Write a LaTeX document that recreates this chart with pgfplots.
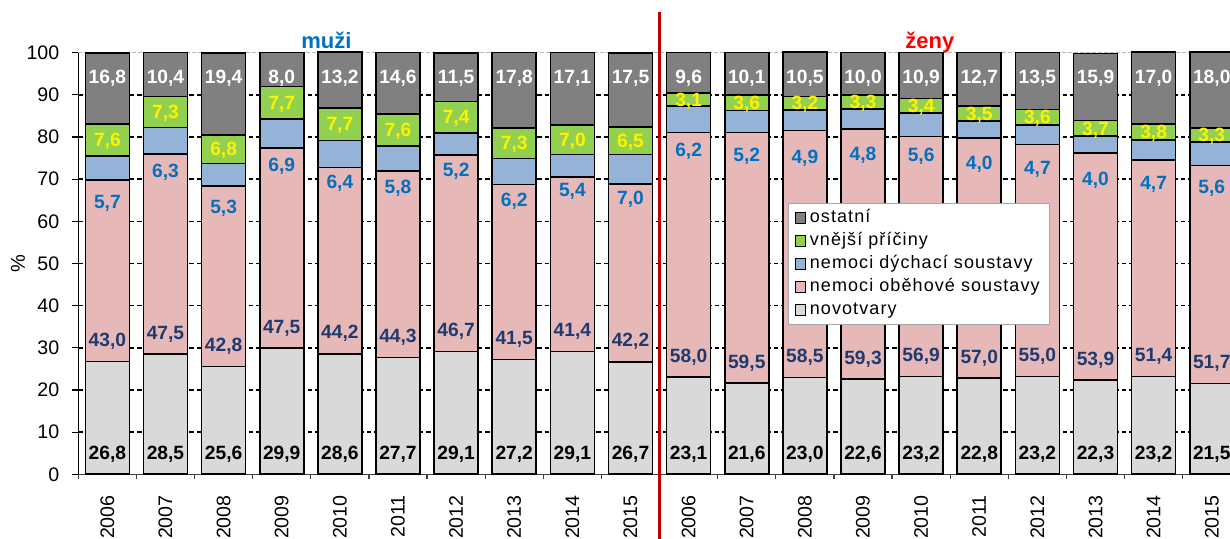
\documentclass[border=0pt]{standalone}
\usepackage{pgfplots}
\pgfplotsset{compat=1.18}
\usepackage{pgfplotstable}
\usepackage{fontspec}
\setmainfont{Liberation Sans}
\newfontfamily\legfont[LetterSpace=6]{Liberation Sans}

\definecolor{cOst}{HTML}{808080}
\definecolor{cVne}{HTML}{92D050}
\definecolor{cDych}{HTML}{95B3D7}
\definecolor{cObe}{HTML}{E6B9B8}
\definecolor{cNov}{HTML}{D9D9D9}
\definecolor{cNavy}{HTML}{1F3A6E}
\definecolor{cBlueTxt}{HTML}{0070C0}
\definecolor{cRedLine}{HTML}{C00000}

\pgfkeys{/pgf/number format/assume math mode=true}

% x: 0-9 muzi 2006-2015, 10-19 zeny 2006-2015; dl = poloha popisku dychaci
\pgfplotstableread{
x  nov  obe  dych vne ost  dl
0  26.8 43.0 5.7  7.6 16.8 64.7
1  28.5 47.5 6.3  7.3 10.4 72.0
2  25.6 42.8 5.3  6.8 19.4 63.5
3  29.9 47.5 6.9  7.7  8.0 73.4
4  28.6 44.2 6.4  7.7 13.2 69.4
5  27.7 44.3 5.8  7.6 14.6 68.2
6  29.1 46.7 5.2  7.4 11.5 72.2
7  27.2 41.5 6.2  7.3 17.8 65.1
8  29.1 41.4 5.4  7.0 17.1 67.4
9  26.7 42.2 7.0  6.5 17.5 65.5
10 23.1 58.0 6.2  3.1  9.6 76.9
11 21.6 59.5 5.2  3.6 10.1 75.8
12 23.0 58.5 4.9  3.2 10.5 75.3
13 22.6 59.3 4.8  3.3 10.0 76.1
14 23.2 56.9 5.6  3.4 10.9 75.7
15 22.8 57.0 4.0  3.5 12.7 73.8
16 23.2 55.0 4.7  3.6 13.5 72.6
17 22.3 53.9 4.0  3.7 15.9 70.2
18 23.2 51.4 4.7  3.8 17.0 69.0
19 21.5 51.7 5.6  3.3 18.0 68.2
}\data

\pgfplotsset{
  base/.style={scale only axis, width=581.25pt, height=210.8pt,
    at={(0,0)}, anchor=south west,
    xmin=-0.5, xmax=19.5, ymin=0, ymax=100},
  mybar/.style={fill=#1, draw=black, line width=0.8pt,
    legend image code/.code={\draw[##1, draw=black, line width=0.5pt] (0pt,-2.6pt) rectangle (5.2pt,2.6pt);}},
  lbl/.style={only marks, mark=none, point meta=explicit,
    nodes near coords={\pgfmathprintnumber[fixed,fixed zerofill,precision=1,use comma]{\pgfplotspointmeta}},
    nodes near coords style={anchor=center, inner sep=0pt, text depth=0pt,
      font=\fontsize{9.6}{11}\selectfont\bfseries, text=#1}},
}

\begin{document}
\begin{tikzpicture}
\begin{axis}[base,
    ybar stacked, bar width=22pt, clip=false,
    axis x line*=bottom, axis y line*=left,
    x axis line style={draw=black!75, line width=0.75pt},
    y axis line style={draw=black, line width=0.75pt},
    tick align=outside,
    ytick={0,10,...,90},
    extra y ticks={100},
    extra y tick style={grid style={draw=gray!55, dash pattern=on 2pt off 1pt, line width=0.6pt}},
    ymajorgrids=true,
    grid style={draw=black, dash pattern=on 2.2pt off 1.5pt, line width=0.7pt},
    major tick length=3pt, minor tick length=2.5pt,
    ytick style={draw=black, line width=0.6pt},
    xtick={0,...,19},
    xticklabels={2006,2007,2008,2009,2010,2011,2012,2013,2014,2015,2006,2007,2008,2009,2010,2011,2012,2013,2014,2015},
    major x tick style={draw=none},
    minor xtick={-0.5,0.5,...,19.5},
    minor x tick style={draw=black!75, line width=0.6pt},
    ticklabel style={font=\fontsize{9.8}{11}\selectfont},
    yticklabel style={xshift=-3pt},
    xticklabel style={yshift=-4pt, rotate=90, anchor=east},
    ylabel={\%},
    every axis y label/.style={at={(axis description cs:-0.0519,0.5)}, rotate=90, anchor=center, font=\fontsize{10}{11}\selectfont},
    reverse legend,
    legend cell align=left,
    legend style={at={(axis description cs:0.6105,0.6435)}, anchor=north west,
      draw=gray!70, line width=0.5pt, fill=white,
      font=\legfont\fontsize{9}{11}\selectfont,
      inner xsep=3pt, inner ysep=1.5pt, row sep=0pt,
      nodes={text height=7pt, text depth=2.5pt, inner ysep=1pt}},
  ]
  \addplot[mybar=cNov] table[x=x, y=nov]{\data};
  \addlegendentry{novotvary}
  \addplot[mybar=cObe] table[x=x, y=obe]{\data};
  \addlegendentry{nemoci oběhové soustavy}
  \addplot[mybar=cDych] table[x=x, y=dych]{\data};
  \addlegendentry{nemoci dýchací soustavy}
  \addplot[mybar=cVne] table[x=x, y=vne]{\data};
  \addlegendentry{vnější příčiny}
  \addplot[mybar=cOst] table[x=x, y=ost]{\data};
  \addlegendentry{ostatní}

  \draw[cRedLine, line width=1.5pt] (axis cs:9.5,109.7) -- (axis cs:9.5,-20);
  \node[anchor=base, text=cBlueTxt, font=\fontsize{11}{13}\selectfont\bfseries] at (axis cs:3.77,101.05) {muži};
  \node[anchor=base, text=red, font=\fontsize{11}{13}\selectfont\bfseries] at (axis cs:14.15,101.05) {ženy};
\end{axis}

\begin{axis}[base, hide axis, clip=false]
  \addplot[lbl=black] table[x=x, y expr=5, meta=nov]{\data};
  \addplot[lbl=cNavy] table[x=x, y expr=\thisrow{nov}+5.1, meta=obe]{\data};
  \addplot[lbl=cBlueTxt] table[x=x, y=dl, meta=dych]{\data};
  \addplot[lbl=yellow] table[x=x, y expr=\thisrow{nov}+\thisrow{obe}+\thisrow{dych}+0.5*\thisrow{vne}, meta=vne]{\data};
  \addplot[lbl=white] table[x=x, y expr=94.3, meta=ost]{\data};
\end{axis}

\pgfresetboundingbox
\useasboundingbox (-39.15pt,-32.35pt) rectangle (575.85pt,237.15pt);
\end{tikzpicture}
\end{document}
